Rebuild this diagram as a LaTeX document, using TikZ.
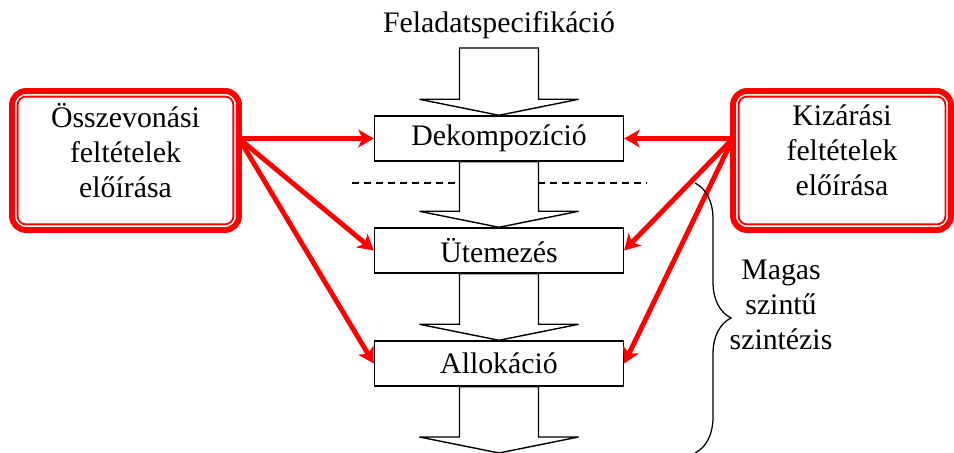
\documentclass[tikz,border=0pt]{standalone}
\usepackage{fontspec}
\setmainfont{Liberation Serif}
\usetikzlibrary{arrows.meta,positioning,calc,decorations.pathreplacing}

\begin{document}
\begin{tikzpicture}[
    font=\fontsize{21.2pt}{24.9pt}\selectfont,
    stepbox/.style={rectangle, draw=black, line width=1pt, fill=white,
                    minimum width=6.225cm, minimum height=1.125cm, align=center},
    condbox/.style={rectangle, rounded corners=10pt, draw=red, line width=4.2pt,
                    outer sep=0pt, minimum width=#1, minimum height=3.475cm,
                    align=center, text depth=0.525cm},
    condline/.style={draw=red, line width=1.3pt, rounded corners=6pt},
    flow/.style={draw=black, line width=1pt, fill=white},
    cutline/.style={dash pattern=on 5pt off 3.5pt, line width=0.8pt},
    arr/.style={-{Stealth[length=11pt, width=12.5pt, inset=3pt]}, red, line width=3.5pt},
    bracebar/.style={decorate, decoration={brace, amplitude=0.9cm}, line width=0.9pt}
  ]
    \useasboundingbox (0,0) rectangle (23.85,11.325);

    % task flow
    \node[anchor=base] (spec) at (12.475,10.5) {Feladatspecifikáció};
    \coordinate (top) at (12.475,10.125);
    \node[stepbox] (dek)  at (12.475,7.8625) {Dekompozíció};
    \node[stepbox] (ute)  at (12.475,5.0625) {Ütemezés};
    \node[stepbox] (allo) at (12.475,2.2375) {Allokáció};
    \coordinate (out) at (12.475,0);

    % wide arrows between the stages
    \foreach \a/\b in {top/dek.north, dek.south/ute.north, ute.south/allo.north, allo.south/out}
      \draw[flow] ($(\a)+(-0.9875,0)$) -- ($(\b)+(-0.9875,0.4)$) -- ($(\b)+(-1.9875,0.4)$) -- (\b)
        -- ($(\b)+(1.9875,0.4)$) -- ($(\b)+(0.9875,0.4)$) -- ($(\a)+(0.9875,0)$) -- cycle;

    % constraint boxes
    \node[condbox=5.675cm] (lbox) at (3.1375,7.3125) {Összevonási\\feltételek\\előírása};
    \node[condbox=5.45cm]  (rbox) at (21.05,7.3125)  {Kizárási\\feltételek\\előírása};
    \draw[condline] ($(lbox.south west)+(0.14,0.14)$) rectangle ($(lbox.north east)-(0.14,0.14)$);
    \draw[condline] ($(rbox.south west)+(0.14,0.14)$) rectangle ($(rbox.north east)-(0.14,0.14)$);

    % constraint arrows
    \draw[arr] (lbox.east |- dek.west) -- (dek.west);
    \draw[arr] (lbox.east |- dek.west) -- (ute.west);
    \draw[arr] (lbox.east |- dek.west) -- (allo.west);
    \draw[arr] (rbox.west |- dek.east) -- (dek.east);
    \draw[arr] (rbox.west |- dek.east) -- (ute.east);
    \draw[arr] (rbox.west |- dek.east) -- (allo.east);

    % stage boundary and brace
    \draw[cutline] (8.8,6.75) -- (11.475,6.75);
    \draw[cutline] (13.45,6.75) -- (16.15,6.75);
    \draw[bracebar] (17.375,6.75) -- (17.375,0);
    \node[align=center] (hls) at (19.525,3.7) {Magas\\szintű\\szintézis};
\end{tikzpicture}
\end{document}
